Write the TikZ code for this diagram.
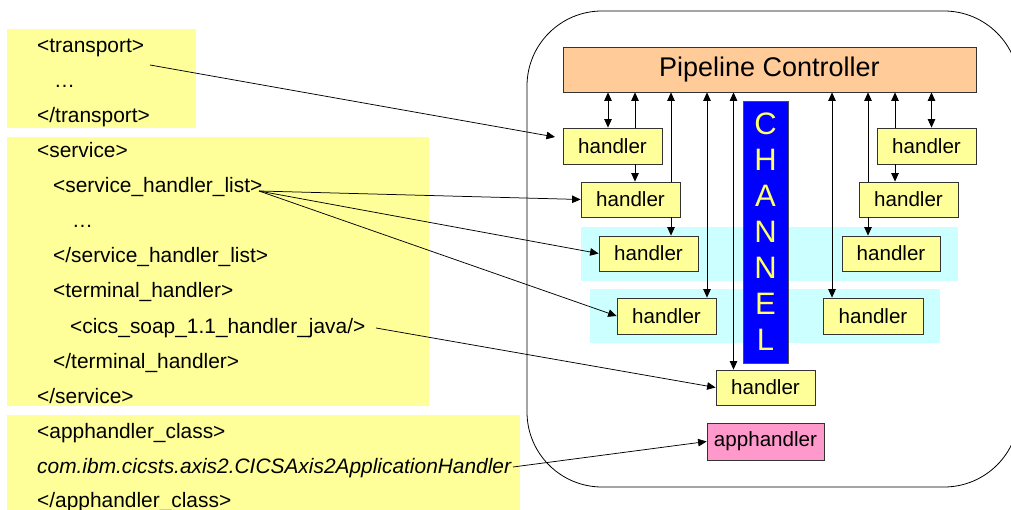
\documentclass[tikz,border=0pt]{standalone}
\usepackage{fontspec}
\setmainfont{Liberation Sans}
\usetikzlibrary{arrows.meta,calc}
\definecolor{hyellow}{HTML}{FFFF99}
\definecolor{hcyan}{HTML}{CCFFFF}
\definecolor{hpink}{HTML}{FF99CC}
\definecolor{hpeach}{HTML}{FFCC99}
\definecolor{hblue}{HTML}{0000FF}
\definecolor{hchar}{HTML}{FFFF66}
\begin{document}
\begin{tikzpicture}[x=1pt,y=-1pt,
  hbox/.style={draw=black!80,line width=0.8pt,fill=hyellow,inner sep=0pt,
    minimum width=99pt,minimum height=36pt,font=\fontsize{20.6}{24}\selectfont},
  abox/.style={hbox,fill=hpink,minimum width=117pt,minimum height=37pt},
  pcbox/.style={draw=black!80,line width=0.8pt,fill=hpeach,inner sep=0pt,
    minimum width=413pt,minimum height=45pt,font=\fontsize{27}{30}\selectfont},
  chan/.style={draw=black!70,line width=0.8pt,fill=hblue,text=hchar,inner sep=0pt,
    align=center,minimum width=45pt,minimum height=262pt,font=\fontsize{31}{36}\selectfont},
  txt/.style={anchor=base west,inner sep=0pt,font=\fontsize{20.9}{24}\selectfont},
  arr/.style={line width=0.75pt,-{Triangle[length=8.5pt,width=7.5pt]}},
  darr/.style={line width=0.75pt,{Triangle[length=8.5pt,width=7.5pt]}-{Triangle[length=8.5pt,width=7.5pt]}},
  ]
\clip (0,0) rectangle (1011,510);
\useasboundingbox (0,0) rectangle (1011,510);

% left yellow panels
\fill[hyellow] (7,29) rectangle (196,128);
\fill[hyellow] (7,137) rectangle (429,406);
\fill[hyellow] (7,415) rectangle (520,515);

% outer rounded frame
\draw[line width=0.8pt,rounded corners=75pt] (527,11) rectangle (1019,487);

% cyan bands
\fill[hcyan] (581,227) rectangle (958,281);
\fill[hcyan] (590,289) rectangle (940,343);

% texts
\node[txt] (t1) at (37,53) {<transport>};
\node[txt] (t2) at (54,88) {…};
\node[txt] (t3) at (37,123) {</transport>};
\node[txt] (t4) at (37,158) {<service>};
\node[txt] (t5) at (53,193) {<service\_handler\_list>};
\node[txt] (t6) at (72,228) {…};
\node[txt] (t7) at (53,263) {</service\_handler\_list>};
\node[txt] (t8) at (53,298) {<terminal\_handler>};
\node[txt] (t9) at (70,333) {<cics\_soap\_1.1\_handler\_java/>};
\node[txt] (t10) at (53,368) {</terminal\_handler>};
\node[txt] (t11) at (37,403) {</service>};
\node[txt] (t12) at (37,438) {<apphandler\_class>};
\node[txt] (t13) at (37,473) {\itshape com.ibm.cicsts.axis2.CICSAxis2ApplicationHandler};
\node[txt] (t14) at (37,507) {</apphandler\_class>};

% boxes
\node[pcbox] (PC) at (769.5,69.5) {Pipeline Controller};
\node[chan] (CH) at (765.5,232) {C\\H\\A\\N\\N\\E\\L};
\node[hbox] (H1L) at (612.5,146) {handler};
\node[hbox,minimum height=35pt] (H2L) at (630.5,199.5) {handler};
\node[hbox,minimum height=35pt] (H3L) at (648.5,253.5) {handler};
\node[hbox] (H4L) at (666.5,316) {handler};
\node[hbox] (H1R) at (926.5,146) {handler};
\node[hbox,minimum height=35pt] (H2R) at (908.5,199.5) {handler};
\node[hbox,minimum height=35pt,minimum width=98pt] (H3R) at (891,253.5) {handler};
\node[hbox,minimum width=100pt] (H4R) at (873,316) {handler};
\node[hbox,minimum height=35pt] (H5) at (765.5,387.5) {handler};
\node[abox] (AP) at (765.5,441.5) {apphandler};

% x positions of vertical connectors
\coordinate (x1) at (608,0);
\coordinate (x2) at (635,0);
\coordinate (x3) at (671,0);
\coordinate (x4) at (707,0);
\coordinate (x5) at (733.5,0);
\coordinate (x6) at (832,0);
\coordinate (x7) at (868,0);
\coordinate (x8) at (895,0);
\coordinate (x9) at (931.5,0);

\draw[darr] (PC.south -| x1) -- (H1L.north -| x1);
\draw[arr] (H1L.north -| x2) -- (PC.south -| x2);
\draw[arr] (H1L.south -| x2) -- (H2L.north -| x2);
\draw[arr] (H2L.north -| x3) -- (PC.south -| x3);
\draw[arr] (H2L.south -| x3) -- (H3L.north -| x3);
\draw[darr] (PC.south -| x4) -- (H4L.north -| x4);
\draw[darr] (PC.south -| x5) -- (H5.north -| x5);
\draw[darr] (PC.south -| x6) -- (H4R.north -| x6);
\draw[arr] (H2R.north -| x7) -- (PC.south -| x7);
\draw[arr] (H2R.south -| x7) -- (H3R.north -| x7);
\draw[arr] (H1R.north -| x8) -- (PC.south -| x8);
\draw[arr] (H1R.south -| x8) -- (H2R.north -| x8);
\draw[darr] (PC.south -| x9) -- (H1R.north -| x9);

% diagonal connectors from the configuration text
\coordinate (s1) at (150,65);
\coordinate (e1) at (555,137);
\coordinate (s2) at (259,191);
\coordinate (s3) at (376,328);
\coordinate (s4) at (513,467);
\draw[arr] (s1) -- (e1);
\draw[arr] (s2) -- (H2L.west);
\draw[arr] (s2) -- (H3L.west);
\draw[arr] (s2) -- (H4L.west);
\draw[arr] (s3) -- (H5.west);
\draw[arr] (s4) -- (AP.west);
\end{tikzpicture}
\end{document}
